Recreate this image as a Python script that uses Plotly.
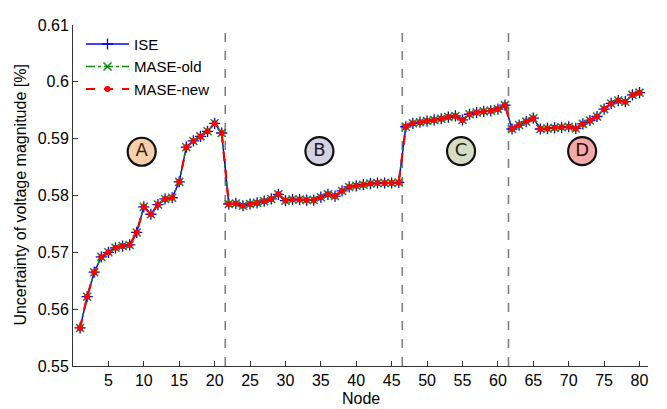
import plotly.graph_objects as go

nodes = list(range(1, 81))

ise = [0.5567, 0.5622, 0.5665, 0.5692, 0.5700, 0.5708, 0.5711, 0.5713, 0.5735, 0.5780,
       0.5767, 0.5784, 0.5794, 0.5796, 0.5824, 0.5885, 0.5896, 0.5904, 0.5913, 0.5927,
       0.5910,
       0.5785, 0.5786, 0.5782, 0.5785, 0.5787, 0.5790, 0.5794, 0.5802, 0.5791, 0.5793,
       0.5793, 0.5792, 0.5792, 0.5797, 0.5802, 0.5799, 0.5808, 0.5815, 0.5817, 0.5819,
       0.5821, 0.5822, 0.5822, 0.5822, 0.5823,
       0.5921, 0.5927, 0.5929, 0.5931, 0.5933, 0.5935, 0.5938, 0.5940, 0.5933, 0.5943,
       0.5946, 0.5948, 0.5949, 0.5952, 0.5959,
       0.5917, 0.5924, 0.5930, 0.5936, 0.5917, 0.5918, 0.5919, 0.5920, 0.5921, 0.5918,
       0.5926, 0.5932, 0.5939, 0.5952, 0.5962, 0.5967, 0.5965, 0.5977, 0.5981]
mase_old = list(ise)
mase_new = list(ise)

boundaries = [21.5, 46.5, 61.5]

region_labels = ["A", "B", "C", "D"]
region_x = [9.7, 34.8, 54.8, 71.9]
region_y = [0.5877, 0.5878, 0.5878, 0.5878]
region_fill = ["#f7cfaa", "#d3d1e3", "#d6ddc3", "#f5aaaa"]
region_text = ["#3a200a", "#1a1a26", "#1a2612", "#3a0808"]

y_ticks = [0.55, 0.56, 0.57, 0.58, 0.59, 0.60, 0.61]
y_ticktext = ["0.55", "0.56", "0.57", "0.58", "0.59", "0.6", "0.61"]
x_ticks = list(range(5, 81, 5))

font_family = "Liberation Sans, Arial, sans-serif"

fig = go.Figure()

for b in boundaries:
    fig.add_shape(type="line", x0=b, x1=b, y0=0.55, y1=0.61, xref="x", yref="y",
                  line=dict(color="#808080", width=1.6, dash="dash"), layer="below")

fig.add_trace(go.Scatter(x=nodes, y=ise, name="ISE", mode="lines+markers",
                         line=dict(color="#0000ff", width=1.5),
                         marker=dict(symbol="cross-thin", size=8,
                                     line=dict(color="#0000ff", width=1.3))))
fig.add_trace(go.Scatter(x=nodes, y=mase_old, name="MASE-old", mode="lines+markers",
                         line=dict(color="#108a10", width=1.5, dash="dashdot"),
                         marker=dict(symbol="x-thin", size=8,
                                     line=dict(color="#108a10", width=1.5))))
fig.add_trace(go.Scatter(x=nodes, y=mase_new, name="MASE-new", mode="lines+markers",
                         line=dict(color="#ff0000", width=2.2, dash="dash"),
                         marker=dict(symbol="circle", size=6, color="#ff0000")))

fig.add_trace(go.Scatter(x=region_x, y=region_y, mode="markers+text", showlegend=False,
                         text=region_labels, textposition="middle center",
                         textfont=dict(family="DejaVu Sans, sans-serif", size=18, color=region_text),
                         marker=dict(size=28, color=region_fill,
                                     line=dict(color="#111111", width=2.2)),
                         hoverinfo="skip"))

fig.add_annotation(text="Node", xref="paper", yref="paper", x=0.5, y=-0.094,
                   xanchor="center", yanchor="middle", showarrow=False,
                   font=dict(size=16, family=font_family, color="black"))
fig.add_annotation(text="Uncertainty of voltage magnitude [%]", xref="paper", yref="paper",
                   x=-0.092, y=0.5, xanchor="center", yanchor="middle", textangle=-90,
                   showarrow=False, font=dict(size=16, family=font_family, color="black"))

# page body has an 8px margin, so the figure is sized/offset to compensate
fig.update_layout(
    width=659, height=401,
    margin=dict(l=65, r=19, t=17, b=43),
    paper_bgcolor="white", plot_bgcolor="white",
    font=dict(family=font_family, size=16, color="black"),
    showlegend=True,
    legend=dict(x=0.0139, y=0.992, xanchor="left", yanchor="top",
                bgcolor="rgba(255,255,255,0)", font=dict(size=15),
                tracegroupgap=0, itemwidth=43),
    xaxis=dict(range=[0, 81.2], tickvals=x_ticks, ticks="inside", ticklen=5,
               tickcolor="#333333", showgrid=False, zeroline=False,
               showline=True, linecolor="#333333", linewidth=1,
               automargin=False, tickfont=dict(size=16)),
    yaxis=dict(range=[0.55, 0.61], tickvals=y_ticks, ticktext=y_ticktext,
               ticks="inside", ticklen=5, tickcolor="#333333",
               showgrid=False, zeroline=False, showline=True,
               linecolor="#333333", linewidth=1,
               automargin=False, tickfont=dict(size=16)),
)

fig.write_html("out.html")
